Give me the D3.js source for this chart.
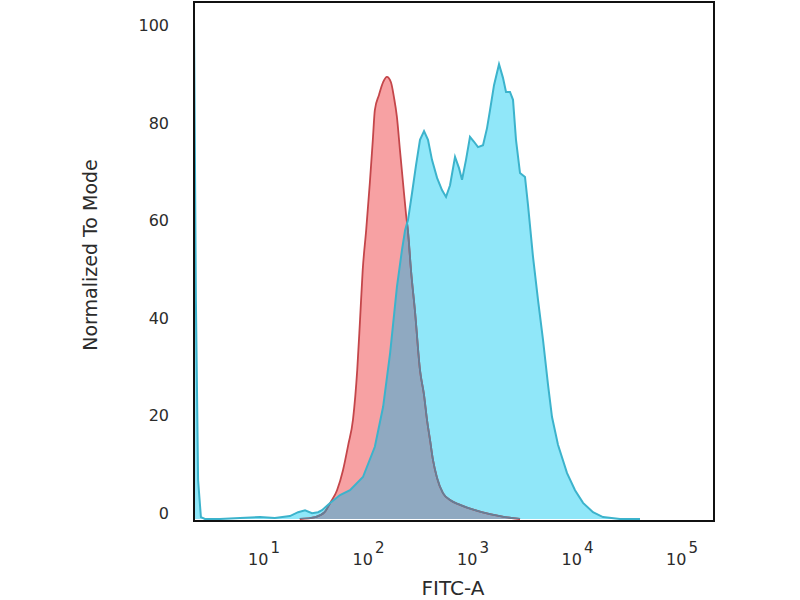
<!DOCTYPE html>
<html>
<head>
<meta charset="utf-8">
<script src="https://cdn.jsdelivr.net/npm/d3@7"></script>
<style>
  body { margin: 0; background: #fff; }
  #chart-container { width: 800px; height: 600px; }
  text { font-family: "DejaVu Sans", Verdana, sans-serif; fill: #2b2b2b; }
</style>
</head>
<body>
<div id="chart-container"></div>
<script>
// FITC-A intensity (x) and normalized-to-mode count (y)
const controlX = [22, 31, 38, 43, 50, 57, 64, 71, 78, 83, 88, 95, 103, 110, 115, 126, 138, 150,
  164, 175, 187, 200, 214, 229, 239, 255, 279, 311, 340, 363, 388, 414, 453, 516, 603, 752,
  1045, 1455, 2023, 2818];
const controlY = [0, 0.4, 1.4, 3.3, 5.9, 10.0, 15.2, 20.3, 30.5, 40.8, 51.0, 59.2, 68.9, 77.7,
  83.8, 86.9, 89.5, 90.6, 89.5, 86.5, 82.4, 75.6, 68.9, 62.3, 58.8, 51.0, 42.4, 30.5, 25.4,
  20.3, 16.2, 12.1, 8.4, 5.3, 3.9, 2.9, 1.8, 1.0, 0.4, 0];

const stainedX = [2.14, 2.23, 2.34, 2.49, 2.72, 3.79, 5.89, 9.16, 12.7, 17.7, 21.2, 24.7, 28.8,
  32.9, 35.9, 42.9, 53.4, 66.5, 88.5, 115, 138, 161, 187, 209, 224, 239, 261, 285, 311, 340,
  371, 405, 453, 505, 552, 603, 673, 735, 785, 857, 936, 1023, 1117, 1247, 1362, 1455, 1589,
  1774, 1936, 2070, 2259, 2415, 2579, 2818, 3145, 3361, 3752, 4188, 4677, 5224, 5703, 6506,
  7943, 9473, 11300, 14070, 17540, 25530, 39630];
const stainedY = [101.8, 44.9, 8.0, 0.4, 0, 0, 0.2, 0.4, 0.2, 0.6, 1.4, 1.8, 1.2, 1.4, 1.8, 3.3,
  4.9, 5.9, 8.6, 14.8, 23.0, 34.0, 47.5, 55.1, 59.2, 61.3, 66.8, 72.5, 77.7, 79.5, 77.7, 73.6,
  69.9, 67.4, 66.0, 68.4, 74.2, 71.9, 69.5, 73.6, 78.3, 77.3, 76.2, 76.6, 80.1, 83.8, 88.9,
  93.2, 90.4, 87.5, 87.5, 85.9, 77.7, 70.9, 70.1, 64.3, 53.7, 44.9, 36.7, 27.5, 20.9, 15.2,
  9.4, 5.9, 3.3, 1.4, 0.4, 0, 0];

const xTickExps = [1, 2, 3, 4, 5];
const yTicks = [0, 20, 40, 60, 80, 100];

const frame = { left: 194, top: 2, right: 714, bottom: 521 };

const svg = d3.select("#chart-container")
  .append("svg")
  .attr("width", 800)
  .attr("height", 600);

// Log axis, decades anchored where the labels sit
const xScale = d3.scaleLog().domain([10, 100000]).range([264, 682]);
const yScale = d3.scaleLinear().domain([0, 100]).range([519, 31]);

const control = controlX.map((v, i) => [v, controlY[i]]);
const stained = stainedX.map((v, i) => [v, stainedY[i]]);

function makeArea(curve) {
  return d3.area()
    .x((d) => xScale(d[0]))
    .y0(yScale(0))
    .y1((d) => yScale(d[1]))
    .curve(curve);
}
function makeLine(curve) {
  return d3.line()
    .x((d) => xScale(d[0]))
    .y((d) => yScale(d[1]))
    .curve(curve);
}

// the control peak is smooth, the stained one is jagged
const controlArea = makeArea(d3.curveMonotoneX)(control);
const controlLine = makeLine(d3.curveMonotoneX)(control);
const stainedArea = makeArea(d3.curveLinear)(stained);
const stainedLine = makeLine(d3.curveLinear)(stained);

const defs = svg.append("defs");
defs.append("clipPath").attr("id", "plot-clip")
  .append("rect")
  .attr("x", frame.left)
  .attr("y", frame.top)
  .attr("width", frame.right - frame.left)
  .attr("height", frame.bottom - frame.top);
defs.append("clipPath").attr("id", "control-clip")
  .append("path").attr("d", controlArea);
defs.append("clipPath").attr("id", "stained-clip")
  .append("path").attr("d", stainedArea);

const plot = svg.append("g").attr("clip-path", "url(#plot-clip)");

plot.append("path").attr("d", controlArea).attr("fill", "#f7a1a3");
plot.append("path").attr("d", stainedArea).attr("fill", "#90e7f9");

// overlap of both histograms
plot.append("g").attr("clip-path", "url(#control-clip)")
  .append("path").attr("d", stainedArea).attr("fill", "#8fa9c1");

plot.append("path").attr("d", controlLine)
  .attr("fill", "none").attr("stroke", "#c4464a").attr("stroke-width", 1.8);
plot.append("g").attr("clip-path", "url(#stained-clip)")
  .append("path").attr("d", controlLine)
  .attr("fill", "none").attr("stroke", "#627f98").attr("stroke-width", 1.8);

plot.append("path").attr("d", stainedLine)
  .attr("fill", "none").attr("stroke", "#3cb3cc").attr("stroke-width", 2);

// frame
svg.append("rect")
  .attr("x", frame.left)
  .attr("y", frame.top)
  .attr("width", frame.right - frame.left)
  .attr("height", frame.bottom - frame.top)
  .attr("fill", "none")
  .attr("stroke", "#111")
  .attr("stroke-width", 2);

// y tick labels (baseline on the tick value)
svg.append("g")
  .selectAll("text")
  .data(yTicks)
  .join("text")
  .attr("x", 169)
  .attr("y", (d) => yScale(d))
  .attr("text-anchor", "end")
  .style("font-size", "16px")
  .text((d) => d);

// x tick labels as 10^n
const xLabels = svg.append("g")
  .selectAll("text")
  .data(xTickExps)
  .join("text")
  .attr("x", (d) => xScale(Math.pow(10, d)))
  .attr("y", 565)
  .attr("text-anchor", "middle")
  .style("font-size", "16px");
xLabels.append("tspan").text("10");
xLabels.append("tspan")
  .attr("dy", -12)
  .attr("dx", 2)
  .style("font-size", "15px")
  .text((d) => d);

svg.append("text")
  .attr("x", 453)
  .attr("y", 595)
  .attr("text-anchor", "middle")
  .style("font-size", "20px")
  .text("FITC-A");

svg.append("text")
  .attr("transform", "translate(97,255) rotate(-90)")
  .attr("text-anchor", "middle")
  .style("font-size", "19px")
  .text("Normalized To Mode");
</script>
</body>
</html>
